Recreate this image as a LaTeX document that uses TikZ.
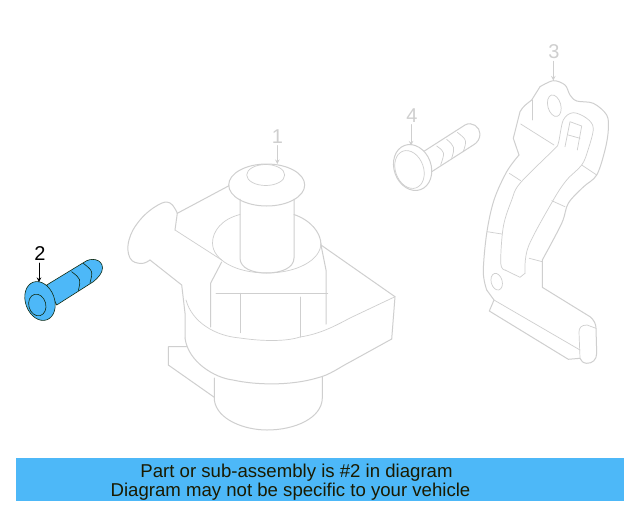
\documentclass[tikz,border=0pt]{standalone}
\usepackage{fontspec}
\setmainfont{Liberation Sans}
\definecolor{partgray}{HTML}{CFCFCF}
\definecolor{partblue}{HTML}{4DB8F8}
\definecolor{inktxt}{HTML}{1A1A00}
\definecolor{boltink}{HTML}{102A10}
\tikzset{
  partline/.style={color=partgray, line width=1pt},
  thinline/.style={color=partgray, line width=0.7pt},
  boltline/.style={draw=boltink, line width=0.6pt},
  numlabel/.style={font=\fontsize{20}{20}\selectfont, inner sep=0pt},
  bannertxt/.style={font=\fontsize{18.6}{20}\selectfont, color=inktxt, inner sep=0pt, anchor=base}
}
\begin{document}
\begin{tikzpicture}[x=1pt, y=-1pt, line join=round, line cap=round, >=stealth]
\useasboundingbox (0,0) rectangle (640,512);
\fill[white] (0,0) rectangle (640,512);
% banner
\node[fill=partblue, minimum width=608pt, minimum height=43pt, inner sep=0pt] (banner) at (320,479.5) {};
\node[bannertxt] (line1) at (296.5,477) {Part or sub-assembly is \#2 in diagram};
\node[bannertxt] (line2) at (290.5,496.5) {Diagram may not be specific to your vehicle};
% pump
\draw[partline] (266.7,185) ellipse (38 and 21);
\draw[thinline] (265.7,175) ellipse (19 and 10.5);
\draw[partline] (240,199) -- (240,258) .. controls (240,268) and (252,273) .. (266.7,273) .. controls (281,273) and (294,268) .. (294,258) -- (294,199);
\draw[thinline] (240,214.5) .. controls (222,219) and (212.5,231) .. (212.5,243) .. controls (212.5,260) and (236,273) .. (266.7,273) .. controls (297,273) and (321,260) .. (321,243);
\draw[partline] (294,214.5) .. controls (310,220) and (321,232) .. (321,245);
\draw[partline] (229,185.7) -- (177.3,213.3);
\draw[partline] (150,260) plot[smooth, tension=0.7] coordinates {(150,260) (141,263.5) (130,258) (129,240) (140,220) (158,205) (170,203) (177.3,213.3)};
\draw[partline] (177.3,213.3) -- (175,230);
\draw[thinline] (175,230) -- (221.7,260);
\draw[partline] (150,260) -- (181.7,285) -- (185,313) -- (185,338);
\draw[partline] (221.7,262) -- (210.7,283) -- (210.7,327);
\draw[partline] (321,245) -- (326,270) -- (326,324);
\draw[partline] (321,245) -- (395,296.7) -- (391.7,339);
\draw[thinline] (216,293.3) -- (327.7,293.3);
\draw[partline] (240.7,293.3) -- (240.7,332.7);
\draw[partline] (300,297) -- (300,337);
\draw[thinline] (186,300) .. controls (192,322) and (215,336) .. (240,338) .. controls (260,341) and (285,342) .. (300,337) .. controls (320,334) and (335,326) .. (350,318) -- (395,296.7);
\draw[partline] (185,338) .. controls (188,362) and (215,378) .. (233,380) .. controls (255,385) and (290,386) .. (317,378) .. controls (330,375) and (340,367) .. (350,362) -- (391.7,339);
\draw[partline] (186.7,346.7) -- (168.3,346.7) -- (168.3,365) -- (214.3,397.3);
\draw[partline] (214.3,378) -- (214.3,400) .. controls (217,420) and (245,430) .. (267,430) .. controls (295,430) and (322,418) .. (322.3,398) -- (322.3,377);
% bracket
\draw[partline] plot[smooth, tension=0.55] coordinates {(540,86.7) (553.3,80.7) (565,85) (570,95) (576.7,101) (593.3,103.3) (606.7,115) (608.3,130) (605,150) (596.7,175) (583.3,187) (568.3,203.3) (561.7,223.3) (542.3,260)};
\draw[partline] (542.3,260) -- (542.3,287.3) -- (590,316.7) .. controls (594,320) and (596,324) .. (596,328.3) -- (596.7,353.3) .. controls (596.7,360) and (592,363.5) .. (586.7,363.3) .. controls (583,363) and (581,361) .. (580,358.3) -- (568.3,359.3) -- (489.3,311) -- (494,300) -- (486.7,290);
\draw[partline] plot[smooth, tension=0.55] coordinates {(486.7,290) (483.3,271.7) (486.7,233.3) (494,200) (506.7,171.7) (519,155)};
\draw[partline] (519,155) -- (513.3,138.3) -- (520,111.7) .. controls (523,106) and (528,103) .. (531.7,100) -- (540,86.7);
\draw[thinline] plot[smooth, tension=0.55] coordinates {(525,273.3) (528.3,246.7) (553.3,200) (566.7,180) (581.7,165) (588,150) (593.3,128.3) (586.7,118.3) (573.3,112.7) (563.3,120) (558.3,143.3) (553.3,150) (520,183.3) (511.7,200) (503.3,226.7) (500.7,263.3) (505,270)};
\draw[thinline] (505,270) -- (520,277.3) -- (525,273.3);
\draw[thinline, rotate around={15:(554.3,105.7)}] (554.3,105.7) ellipse (6.5 and 11);
\draw[thinline, rotate around={15:(496.7,281.7)}] (496.7,281.7) ellipse (5.5 and 8.5);
\draw[thinline] (565,146.7) -- (570,121.7) -- (581.7,126) -- (577.3,150);
\draw[thinline] (568.3,135) -- (580,138.3);
\draw[thinline] (494,300) -- (580,350);
\draw[thinline] (596,328.3) -- (587,325) .. controls (581,325) and (579,328) .. (579,332) -- (580,358.3);
\foreach\xa/\ya/\xb/\yb in {532.7/100/532.7/120, 520.7/124/554/145, 509.3/173.3/520.7/180.7, 581.7/165/596.7/175, 551.7/200.7/565/206.7, 487.3/231.7/501.7/234, 529.3/258.3/542.3/261.7}
\draw[thinline] (\xa,\ya) -- (\xb,\yb);
% bolt 4
\draw[partline] (423.3,151.7) -- (465,125) .. controls (472,121) and (480,127) .. (480,134) .. controls (480,139) and (477,143) .. (473.3,145) -- (431.7,171.7);
\foreach\xa/\ya/\xm/\ym/\xb/\yb in {436.7/146/445/152/440.7/165, 446.7/139.3/455/147/451.7/158.3, 457.3/132.3/467/140/463.3/151.7}
\draw[thinline] (\xa,\ya) .. controls (\xm,\ym) .. (\xb,\yb);
\fill[white, rotate around={20:(412.6,167.5)}] (412.6,167.5) ellipse (18.5 and 23.5);
\draw[partline, rotate around={20:(412.6,167.5)}] (412.6,167.5) ellipse (18.5 and 23.5);
\draw[thinline, rotate around={20:(409.5,169.5)}] (409.5,169.5) ellipse (14 and 19.5);
% bolt 2
\draw[boltline, fill=partblue] (46.7,285) -- (84,262.3) .. controls (91,257) and (102.5,259) .. (102.5,268) .. controls (102.5,273) and (98,278) .. (93.3,281.7) -- (56.7,305) -- cycle;
\foreach\xa/\ya/\xm/\ym/\xb/\yb in {71.7/271.7/81/279/78.3/290.7, 83.3/263.3/93/271/90/283}
\draw[boltline] (\xa,\ya) .. controls (\xm,\ym) .. (\xb,\yb);
\draw[boltline, fill=partblue, rotate around={20:(40,301)}] (40,301) ellipse (14.5 and 20);
\draw[boltline, rotate around={15:(37.3,305)}] (37.3,305) ellipse (8.5 and 11);
% labels and arrows
\coordinate (tip1) at (277.3,164);
\coordinate (tip2) at (39,282);
\coordinate (tip3) at (553.3,80.5);
\coordinate (tip4) at (411,145.5);
\foreach\i/\xl/\yl/\col in {1/277.5/136.5/partgray, 2/40/254/black, 3/554/52/partgray, 4/412/115.5/partgray}{
\node[numlabel, color=\col] (num\i) at (\xl,\yl) {\i};
\draw[->, color=\col, line width=1pt] (num\i.south -| tip\i) ++(0,2) -- (tip\i);
}
\end{tikzpicture}
\end{document}
